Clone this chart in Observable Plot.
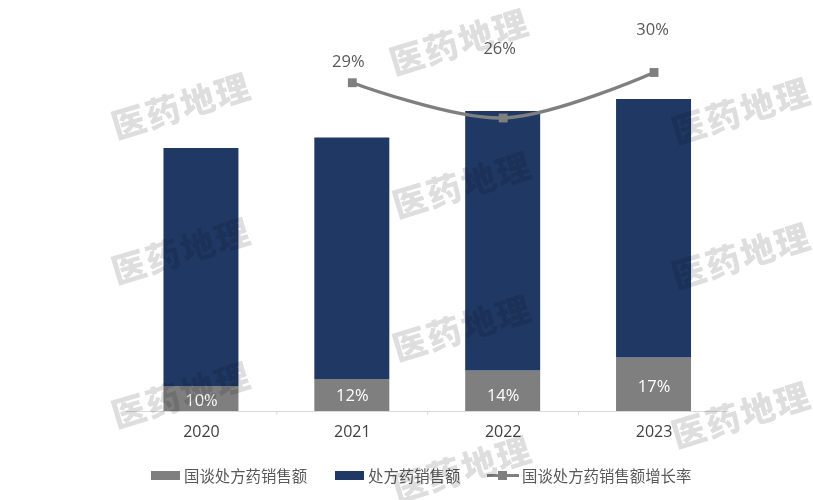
<!DOCTYPE html>
<html lang="zh-CN">
<head>
<meta charset="utf-8">
<script src="https://cdn.jsdelivr.net/npm/d3@7"></script>
<script src="https://cdn.jsdelivr.net/npm/@observablehq/plot@0.6"></script>
<style>
html,body{margin:0;padding:0;background:#fff}
#page{position:relative;width:813px;height:500px;font-family:"Open Sans","Noto Sans CJK SC",sans-serif}
#chart svg{display:block}
.legend{position:absolute;left:0;top:459px;width:813px;height:32px;font-size:15.4px;color:#595959;font-family:"Noto Sans CJK SC",sans-serif}
.legend .item{position:absolute;top:0;height:32px;display:flex;align-items:center;white-space:nowrap}
.legend .sw{display:inline-block;width:29px;height:9px;margin-right:4px}
.legend .ln{position:relative;display:inline-block;width:32px;height:3px;background:#7f7f7f;margin-right:3px}
.legend .ln i{position:absolute;left:11px;top:-3px;width:9px;height:9px;background:#7f7f7f}
.wm{position:absolute;transform:translate(-50%,-50%) rotate(-17deg);font:900 34px/0.9 "Noto Sans CJK SC",sans-serif;letter-spacing:2px;color:#dedede;mix-blend-mode:multiply;white-space:nowrap;pointer-events:none}
</style>
</head>
<body>
<div id="page">
  <div id="chart"></div>
  <div class="legend" id="legend"></div>
</div>
<script>
const years = ["2020", "2021", "2022", "2023"];
const negotiated = [25, 32, 40.5, 53.5];
const prescription = [238, 241.5, 259.5, 258.5];
const negotiatedShare = ["10%", "12%", "14%", "17%"];
const growthYears = ["2021", "2022", "2023"];
const growth = [29.1, 26, 30];
const growthLabels = ["29%", "26%", "30%"];
const seriesNames = ["国谈处方药销售额", "处方药销售额", "国谈处方药销售额增长率"];
const colors = ["#7f7f7f", "#1f3864"];
const watermarkText = "医药地理";

const bars = years.flatMap((year, i) => [
  {year, series: seriesNames[0], value: negotiated[i]},
  {year, series: seriesNames[1], value: prescription[i]}
]);
const growthAxis = d3.scaleLinear().domain([26, 30]).range([293.5, 339]);
const growthRows = growthYears.map((year, i) => ({year, y: growthAxis(growth[i]), label: growthLabels[i]}));
const shareRow = i => [{year: years[i], y: negotiated[i] / 2, label: negotiatedShare[i]}];
const font = "'Open Sans','Noto Sans CJK SC',sans-serif";

const shareMark = (i, dy) => Plot.text(shareRow(i), {x: "year", y: "y", text: "label", fill: "#fff", fontSize: 16.5, dy, fontFamily: font});
const growthMark = (i, dx, dy) => Plot.text([growthRows[i]], {x: "year", y: "y", text: "label", fill: "#595959", fontSize: 16.5, dx, dy, fontFamily: font});

const chart = Plot.plot({
  width: 813,
  height: 460,
  marginTop: 11,
  marginBottom: 49,
  marginLeft: 125.5,
  marginRight: 84,
  style: {fontFamily: font, background: "transparent", overflow: "visible"},
  x: {domain: years, type: "band", round: false, paddingInner: 0.503, paddingOuter: 0.2517, label: null},
  y: {domain: [0, 400], axis: null},
  color: {domain: seriesNames.slice(0, 2), range: colors},
  marks: [
    Plot.ruleY([0], {stroke: "#d9d9d9", strokeWidth: 1.2}),
    Plot.ruleX(years.slice(1), {x: d => d, y1: 0, y2: -4, stroke: "#d9d9d9", dx: -75.5}),
    Plot.barY(bars, {x: "year", y: "value", fill: "series", order: seriesNames.slice(0, 2)}),
    Plot.line(growthRows, {x: "year", y: "y", stroke: "#7f7f7f", strokeWidth: 3.4, curve: "catmull-rom"}),
    Plot.dot(growthRows, {x: "year", y: "y", symbol: "square", r: 5, fill: "#7f7f7f"}),
    shareMark(0, 1.5), shareMark(1, 0), shareMark(2, 4), shareMark(3, 2),
    growthMark(0, -4, -21), growthMark(1, -3.5, -69), growthMark(2, -1.5, -43),
    Plot.axisX({tickSize: 0, tickPadding: 14, fontSize: 16, fill: "#404040", label: null})
  ]
});
document.getElementById("chart").appendChild(chart);

const legend = document.getElementById("legend");
[[151, colors[0], seriesNames[0]], [335, colors[1], seriesNames[1]], [487, null, seriesNames[2]]].forEach(([left, c, name]) => {
  const item = document.createElement("div");
  item.className = "item";
  item.style.left = left + "px";
  item.innerHTML = (c ? `<span class="sw" style="background:${c}"></span>` : `<span class="ln"><i></i></span>`) + `<span>${name}</span>`;
  legend.appendChild(item);
});

const page = document.getElementById("page");
[[181, 105], [181, 250], [181, 394], [459, 41], [462, 184], [462, 327], [462, 468], [741, 110], [741, 255], [741, 414]].forEach(([x, y]) => {
  const w = document.createElement("div");
  w.className = "wm";
  w.textContent = watermarkText;
  w.style.left = x + "px";
  w.style.top = y + "px";
  page.appendChild(w);
});
</script>
</body>
</html>
